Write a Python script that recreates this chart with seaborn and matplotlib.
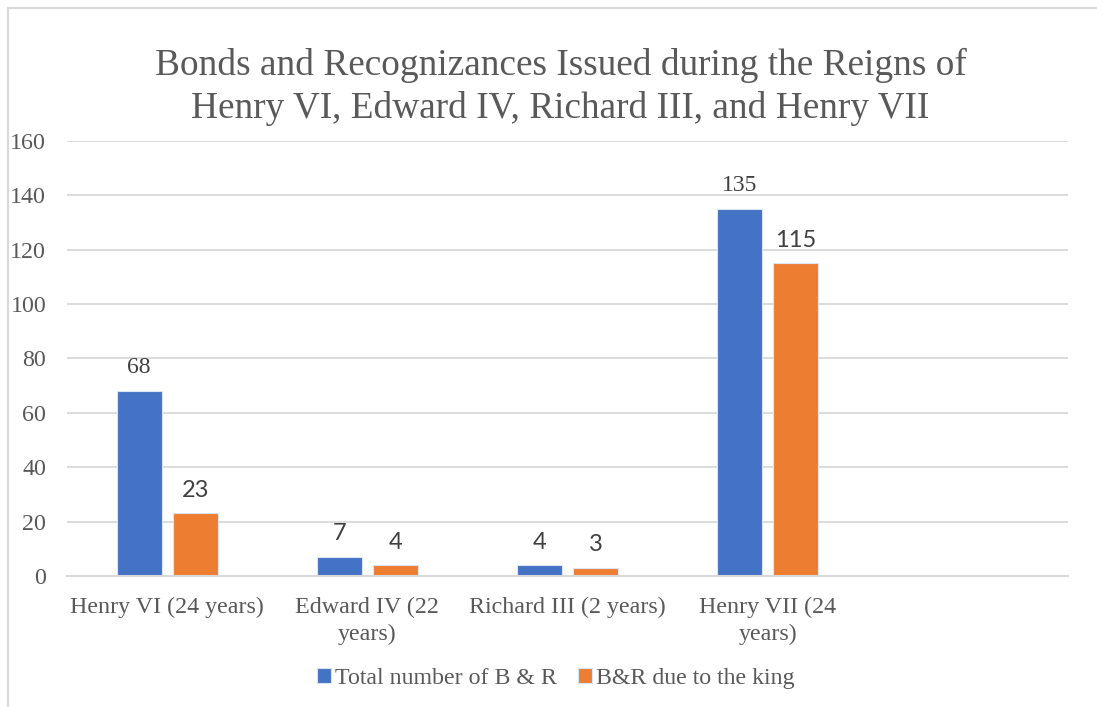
import pandas as pd
import seaborn as sns
import matplotlib.pyplot as plt
from matplotlib.patches import Rectangle

# Chart data
reigns = ['Henry VI (24 years)', 'Edward IV (22\nyears)', 'Richard III (2 years)', 'Henry VII (24\nyears)']
total_br = [68, 7, 4, 135]
due_to_king = [23, 4, 3, 115]
series_names = ['Total number of B & R', 'B&R due to the king']
colors = ['#4472C4', '#ED7D31']

df = pd.DataFrame({
    'Reign': reigns * 2,
    'Series': [series_names[0]] * len(reigns) + [series_names[1]] * len(reigns),
    'Count': total_br + due_to_king,
})

sns.set_style('white')
plt.rcParams['font.family'] = ['Liberation Serif', 'DejaVu Serif']
text_grey = '#595959'

fig = plt.figure(figsize=(10.97, 7.07), dpi=100)
ax = fig.add_axes([0.0611, 0.1853, 0.9125, 0.6157])

sns.barplot(data=df, x='Reign', y='Count', hue='Series', order=reigns,
            hue_order=series_names, palette=colors, saturation=1,
            width=0.56, gap=0.2, edgecolor='#dbe4f5', linewidth=0.8, ax=ax)

# Excel left an empty fifth category slot on the right
ax.set_xlim(-0.5, 4.5)
ax.set_ylim(0, 160)
ax.set_yticks(range(0, 161, 20))
ax.yaxis.grid(True, color='#d9d9d9', linewidth=1.3)
ax.set_axisbelow(True)
for s in ['top', 'right', 'left']:
    ax.spines[s].set_visible(False)
ax.spines['bottom'].set_color('#d9d9d9')
ax.spines['bottom'].set_linewidth(1.5)
ax.tick_params(axis='both', length=0, labelsize=17.3, colors=text_grey)
ax.tick_params(axis='y', pad=15)
ax.tick_params(axis='x', pad=15)
ax.set_xlabel('')
ax.set_ylabel('')
for lbl in ax.get_xticklabels():
    lbl.set_linespacing(1.35)

# Data labels: 68 and 135 are in serif, the rest in a sans face
for container in ax.containers:
    texts = ax.bar_label(container, padding=9, fontsize=17, color='#404040')
    for t in texts:
        if t.get_text() in ('68', '135'):
            t.set_family(['Liberation Serif'])
        else:
            t.set_family(['Lato', 'DejaVu Sans'])

fig.suptitle('Bonds and Recognizances Issued during the Reigns of\nHenry VI, Edward IV, Richard III, and Henry VII',
             x=0.511, y=0.932, fontsize=26.8, color=text_grey, linespacing=1.27)

ax.legend(loc='upper center', bbox_to_anchor=(0.488, -0.162), ncol=2, frameon=False,
          fontsize=17.2, handlelength=0.6, handleheight=0.6, handletextpad=0.15,
          columnspacing=0.9, labelcolor=text_grey)

# Chart frame, cropped at the right and bottom like the reference
fig.patches.append(Rectangle((8 / 1097, -0.05), 1.2, 1 - 8 / 707 + 0.05,
                             transform=fig.transFigure, fill=False,
                             edgecolor='#d9d9d9', linewidth=1.5))

fig.savefig('out.png', dpi=100)
